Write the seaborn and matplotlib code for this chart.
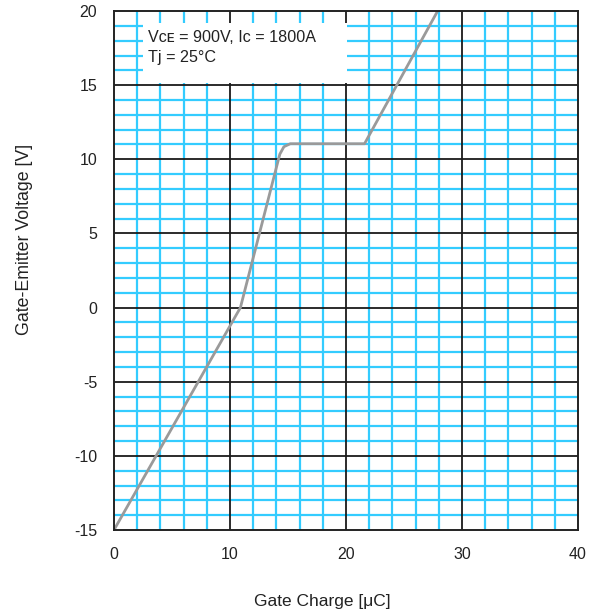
import matplotlib
matplotlib.use("Agg")
import matplotlib.pyplot as plt
from matplotlib.patches import Rectangle
from matplotlib.ticker import MultipleLocator
import pandas as pd
import seaborn as sns

# Gate charge characteristic (Qg vs VGE)
gate_charge = [0.0, 10.9, 14.05, 14.3, 14.65, 15.2, 21.6, 27.9]
gate_voltage = [-15.0, 0.0, 9.6, 10.35, 10.85, 11.05, 11.05, 20.0]

x_ticks = [0, 10, 20, 30, 40]
y_ticks = [-15, -10, -5, 0, 5, 10, 15, 20]
x_major_lines = [10, 20, 30]
y_major_lines = [-10, -5, 0, 5, 10, 15]

df = pd.DataFrame({"Qg": gate_charge, "VGE": gate_voltage})

sns.set_style("white")
plt.rcParams["font.family"] = ["Liberation Sans", "DejaVu Sans"]
plt.rcParams["axes.unicode_minus"] = False

fig = plt.figure(figsize=(6.03, 6.16), dpi=100)
ax = fig.add_axes([0.189, 0.1396, 0.7695, 0.8425])

ax.set_xlim(0, 40)
ax.set_ylim(-15, 20)
ax.set_xticks(x_ticks)
ax.set_yticks(y_ticks)
ax.xaxis.set_minor_locator(MultipleLocator(2))
ax.yaxis.set_minor_locator(MultipleLocator(1))

# fine cyan grid
ax.grid(which="minor", color="#33ccff", linewidth=1.6)
ax.grid(False, which="major")
ax.set_axisbelow(True)

# coarse black grid
for xv in x_major_lines:
    ax.axvline(xv, color="#1a1a1a", linewidth=1.3, zorder=1.8)
for yv in y_major_lines:
    ax.axhline(yv, color="#1a1a1a", linewidth=1.3, zorder=1.8)

# white label panel for the test conditions
ax.add_patch(Rectangle((2.5, 15.15), 17.6, 4.05, facecolor="white",
                       edgecolor="none", zorder=2))
ax.text(2.9, 18.2, "Vᴄᴇ = 900V, Iᴄ = 1800A", fontsize=11.6,
        color="#222222", va="center", ha="left", zorder=3)
ax.text(2.9, 16.85, "Tj = 25°C", fontsize=11.6,
        color="#222222", va="center", ha="left", zorder=3)

sns.lineplot(data=df, x="Qg", y="VGE", ax=ax, color="#9a9a9a",
             linewidth=2.0, sort=False, estimator=None, zorder=4)

for s in ax.spines.values():
    s.set_color("#222222")
    s.set_linewidth(1.4)
    s.set_zorder(5)

ax.tick_params(which="both", length=0, labelsize=11.5, colors="#222222")
ax.tick_params(axis="x", pad=12)
ax.tick_params(axis="y", pad=12)

ax.set_xlabel("Gate Charge [μC]", fontsize=12.5, color="#222222")
ax.set_ylabel("Gate-Emitter Voltage [V]", fontsize=12.8, color="#222222")
ax.xaxis.set_label_coords(0.45, -0.123)
ax.yaxis.set_label_coords(-0.175, 0.56)

fig.savefig("out.png", dpi=100)
